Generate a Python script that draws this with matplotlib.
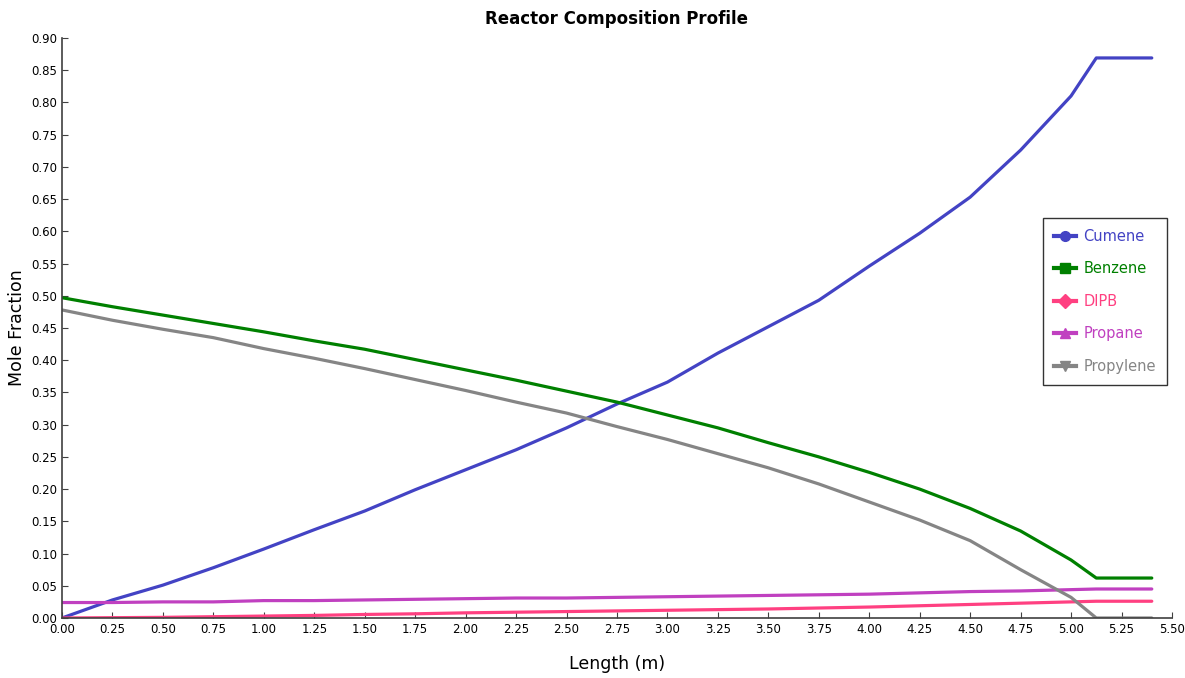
import matplotlib.pyplot as plt
from matplotlib.lines import Line2D

length = [0.0, 0.25, 0.5, 0.75, 1.0, 1.25, 1.5, 1.75, 2.0, 2.25, 2.5, 2.75,
          3.0, 3.25, 3.5, 3.75, 4.0, 4.25, 4.5, 4.75, 5.0, 5.125, 5.4]

cumene = [0.0, 0.028, 0.051, 0.078, 0.107, 0.137, 0.166, 0.199, 0.230, 0.261,
          0.295, 0.332, 0.366, 0.411, 0.452, 0.493, 0.546, 0.597, 0.653, 0.726,
          0.810, 0.869, 0.869]
benzene = [0.497, 0.483, 0.470, 0.457, 0.444, 0.430, 0.417, 0.401, 0.385, 0.369,
           0.352, 0.335, 0.315, 0.295, 0.272, 0.250, 0.226, 0.200, 0.170, 0.135,
           0.090, 0.062, 0.062]
dipb = [0.0, 0.0005, 0.001, 0.002, 0.003, 0.004, 0.0055, 0.0065, 0.008, 0.009,
        0.010, 0.011, 0.012, 0.013, 0.014, 0.0155, 0.017, 0.019, 0.021, 0.023,
        0.025, 0.026, 0.026]
propane = [0.024, 0.024, 0.025, 0.025, 0.027, 0.027, 0.028, 0.029, 0.030, 0.031,
           0.031, 0.032, 0.033, 0.034, 0.035, 0.036, 0.037, 0.039, 0.041, 0.042,
           0.044, 0.045, 0.045]
propylene = [0.478, 0.462, 0.448, 0.435, 0.418, 0.403, 0.387, 0.370, 0.353, 0.335,
             0.318, 0.297, 0.277, 0.255, 0.233, 0.208, 0.180, 0.152, 0.120, 0.075,
             0.032, 0.0, 0.0]

series = [("Cumene", cumene, "#4343c4", "o"),
          ("Benzene", benzene, "#008000", "s"),
          ("DIPB", dipb, "#ff4081", "D"),
          ("Propane", propane, "#c040c0", "^"),
          ("Propylene", propylene, "#858585", "v")]

fig = plt.figure(figsize=(11.85, 6.78), dpi=100)
ax = fig.add_axes([0.0523, 0.0885, 0.9367, 0.8555])

handles = []
for name, vals, col, mk in series:
    ax.plot(length, vals, color=col, lw=2.3, solid_capstyle="round")
    handles.append(Line2D([], [], color=col, lw=3, marker=mk, markersize=7, label=name))

ax.set_xlim(0, 5.5)
ax.set_ylim(0, 0.9)
ax.set_xticks([i * 0.25 for i in range(23)])
ax.set_yticks([i * 0.05 for i in range(19)])
ax.xaxis.set_major_formatter(lambda v, p: f"{v:.2f}")
ax.yaxis.set_major_formatter(lambda v, p: f"{v:.2f}")
ax.tick_params(direction="in", length=4, labelsize=8.5, color="#404040")
for s in ["top", "right"]:
    ax.spines[s].set_visible(False)
for s in ["left", "bottom"]:
    ax.spines[s].set_color("#404040")
    ax.spines[s].set_linewidth(1.2)

ax.set_xlabel("Length (m)", fontsize=12.5, labelpad=14)
ax.set_ylabel("Mole Fraction", fontsize=12.5, labelpad=4)
ax.set_title("Reactor Composition Profile", fontsize=12, fontweight="bold", pad=10)

leg = ax.legend(handles=handles, loc="upper left", bbox_to_anchor=(0.884, 0.69),
                fontsize=10.5, frameon=True, fancybox=False, handlelength=1.5,
                labelspacing=1.2, borderpad=0.75, handletextpad=0.5, borderaxespad=0)
leg.get_frame().set_edgecolor("black")
leg.get_frame().set_linewidth(1.0)
for txt, (_, _, col, _) in zip(leg.get_texts(), series):
    txt.set_color(col)

fig.savefig("out.png", dpi=100)
